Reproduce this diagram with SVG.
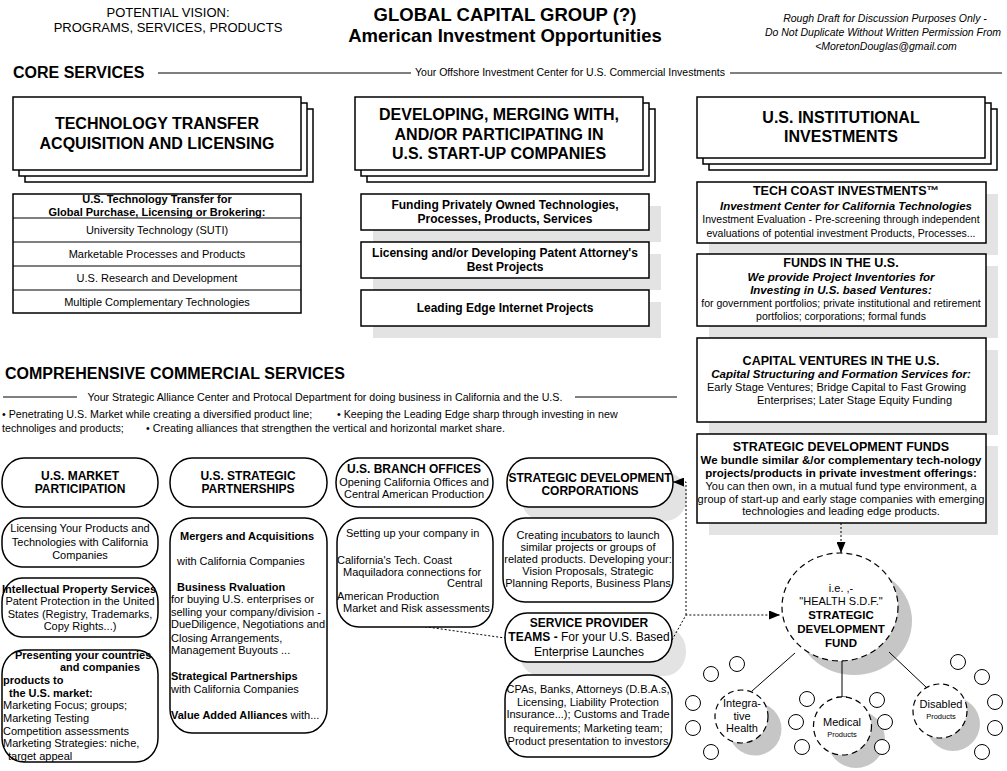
<svg xmlns="http://www.w3.org/2000/svg" width="1007" height="771" viewBox="0 0 1007 771">
<defs>
<style>
text{font-family:"Liberation Sans",Arial,sans-serif;fill:#000}
.c{text-anchor:middle}
.b{font-weight:bold}
.i{font-style:italic}
.box{fill:#fff;stroke:#000;stroke-width:1.5}
.sh{fill:#e3e3e3}
.csh{fill:#c6c6c6}
.dot{fill:none;stroke:#000;stroke-width:1;stroke-dasharray:2 2}
.ln{fill:none;stroke:#000;stroke-width:1}
.dc{fill:#fff;stroke:#000;stroke-width:1.2;stroke-dasharray:6 4}
.sc{fill:#fff;stroke:#000;stroke-width:1}
.f16{font-size:16px}.f12{font-size:12px}.f11{font-size:11px}.f13{font-size:13px}.f105{font-size:10.5px}
</style>
<marker id="ah" markerUnits="userSpaceOnUse" markerWidth="11" markerHeight="9" refX="11" refY="4.5" orient="auto">
<path d="M0,0 L11,4.5 L0,9 z" fill="#000"/>
</marker>
</defs>
<rect width="1007" height="771" fill="#fff"/>

<g id="header">
<text x="168" y="17" class="c f13">POTENTIAL VISION:</text>
<text x="168" y="32" class="c f13">PROGRAMS, SERVICES, PRODUCTS</text>
<text x="505" y="21" class="c b" font-size="18.5">GLOBAL CAPITAL GROUP (?)</text>
<text x="505" y="42" class="c b" font-size="18.5">American Investment Opportunities</text>
<text x="885" y="22" class="c i f105">Rough Draft for Discussion Purposes Only -</text>
<text x="883" y="36" class="c i f105">Do Not Duplicate Without Written Permission From</text>
<text x="886" y="50" class="c i f105">&lt;MoretonDouglas@gmail.com</text>
<text x="13" y="78" class="b f16">CORE SERVICES</text>
<line x1="158" y1="73" x2="411" y2="73" class="ln"/>
<text x="570" y="76" class="c f105">Your Offshore Investment Center for U.S. Commercial Investments</text>
<line x1="730" y1="73" x2="1002" y2="73" class="ln"/>
<text x="5" y="379" class="b f16">COMPREHENSIVE  COMMERCIAL SERVICES</text>
<line x1="3" y1="397" x2="77" y2="397" class="ln"/>
<text x="325" y="401" class="c" font-size="10.7">Your Strategic Alliance Center and Protocal Department for doing business in California and the U.S.</text>
<line x1="575" y1="397" x2="677" y2="397" class="ln"/>
<text x="2" y="418" font-size="10.7">• Penetrating U.S. Market while creating a diversified product line;</text>
<text x="337" y="418" font-size="10.7">• Keeping the Leading Edge sharp through investing in new</text>
<text x="2" y="432" font-size="10.7">technoliges and products;</text>
<text x="146" y="432" font-size="10.7">• Creating alliances that strengthen the vertical and horizontal market share.</text>
</g>

<g id="shadows">
<rect x="373" y="206" width="288" height="36" class="sh"/>
<rect x="373" y="254" width="288" height="36" class="sh"/>
<rect x="373" y="302" width="288" height="36" class="sh"/>
<rect x="709" y="194" width="289" height="61" class="sh"/>
<rect x="709" y="266" width="289" height="72" class="sh"/>
<rect x="709" y="350" width="289" height="85" class="sh"/>
<rect x="709" y="446" width="289" height="89" class="sh"/>
<rect x="521" y="472" width="166" height="49" rx="22" ry="24" class="sh"/>
<rect x="519" y="627" width="167" height="49" rx="22" ry="24" class="sh"/>
<ellipse cx="854" cy="621" rx="58" ry="54" class="csh"/>
<circle cx="755" cy="729" r="26.5" class="csh"/>
<circle cx="856" cy="739" r="29" class="csh"/>
<circle cx="953" cy="724" r="27" class="csh"/>
</g>

<g id="connectors">
<path d="M413 625 L505 638" class="dot"/>
<path d="M672 640 L686 615 L780 615" class="dot" marker-end="url(#ah)"/>
<path d="M686 615 L686 482 L673 482" class="dot" marker-end="url(#ah)"/>
<path d="M841 523 L841 553" class="dot" marker-end="url(#ah)"/>
<path d="M795 653 L752 691" class="ln"/>
<path d="M842 661 L842 697 M837 697 L847 697" class="ln"/>
<path d="M889 652 L927 688" class="ln"/>
</g>

<g id="tech-transfer">
<rect x="25" y="109" width="288" height="73" class="box"/>
<rect x="19" y="103" width="288" height="73" class="box"/>
<rect x="13" y="97" width="288" height="73" class="box"/>
<text x="157" y="129" class="c b f16">TECHNOLOGY TRANSFER</text>
<text x="157" y="149" class="c b f16">ACQUISITION AND LICENSING</text>
</g>

<g id="tech-table">
<rect x="13" y="194" width="288" height="119" class="box"/>
<path d="M13 218 H301 M13 242 H301 M13 266 H301 M13 290 H301" class="ln" stroke-width="1.3"/>
<text x="157" y="203" class="c b f11">U.S. Technology Transfer for</text>
<text x="157" y="216" class="c b f11">Global Purchase, Licensing or Brokering:</text>
<text x="157" y="234" class="c f11">University Technology (SUTI)</text>
<text x="157" y="258" class="c f11">Marketable Processes and Products</text>
<text x="157" y="282" class="c f11">U.S. Research and Development</text>
<text x="157" y="306" class="c f11">Multiple Complementary Technologies</text>
</g>

<g id="startups">
<rect x="367" y="109" width="288" height="73" class="box"/>
<rect x="361" y="103" width="288" height="73" class="box"/>
<rect x="355" y="97" width="288" height="73" class="box"/>
<text x="499" y="120" class="c b f16">DEVELOPING, MERGING WITH,</text>
<text x="499" y="140" class="c b f16">AND/OR PARTICIPATING IN</text>
<text x="499" y="159" class="c b f16">U.S. START-UP COMPANIES</text>
</g>

<g id="funding">
<rect x="361" y="194" width="288" height="36" class="box"/>
<text x="505" y="209" class="c b f12">Funding Privately Owned Technologies,</text>
<text x="505" y="223" class="c b f12">Processes, Products, Services</text>
</g>
<g id="licensing-patent">
<rect x="361" y="242" width="288" height="36" class="box"/>
<text x="505" y="257" class="c b f12">Licensing and/or Developing Patent Attorney's</text>
<text x="505" y="271" class="c b f12">Best Projects</text>
</g>
<g id="internet">
<rect x="361" y="290" width="288" height="36" class="box"/>
<text x="505" y="312" class="c b f12">Leading Edge Internet Projects</text>
</g>

<g id="institutional">
<rect x="709" y="109" width="288" height="61" class="box"/>
<rect x="703" y="103" width="288" height="61" class="box"/>
<rect x="697" y="97" width="288" height="61" class="box"/>
<text x="841" y="123" class="c b f16">U.S. INSTITUTIONAL</text>
<text x="841" y="142" class="c b f16">INVESTMENTS</text>
</g>

<g id="tech-coast">
<rect x="697" y="182" width="289" height="61" class="box"/>
<text x="846" y="195" class="c b" font-size="12.5">TECH COAST INVESTMENTS™</text>
<text x="846" y="210" class="c b i" font-size="11.5">Investment Center for California Technologies</text>
<text x="841" y="223" class="c f105">Investment Evaluation - Pre-screening through independent</text>
<text x="841" y="237" class="c f105">evaluations of potential investment Products, Processes...</text>
</g>

<g id="funds-us">
<rect x="697" y="254" width="289" height="72" class="box"/>
<text x="841" y="267" class="c b" font-size="12.5">FUNDS IN THE U.S.</text>
<text x="841" y="281" class="c b i" font-size="11.5">We provide Project Inventories for</text>
<text x="841" y="294" class="c b i" font-size="11.5">Investing in U.S. based Ventures:</text>
<text x="841" y="307" class="c f105">for government portfolios; private institutional and retirement</text>
<text x="841" y="320" class="c f105">portfolios; corporations; formal funds</text>
</g>

<g id="capital-ventures">
<rect x="697" y="338" width="289" height="84" class="box"/>
<text x="841" y="365" class="c b" font-size="12.5">CAPITAL VENTURES IN THE U.S.</text>
<text x="841" y="378" class="c b i" font-size="11.5">Capital Structuring and Formation Services for:</text>
<text x="707" y="391" class="f11">Early Stage Ventures; Bridge Capital to Fast Growing</text>
<text x="757" y="404" class="f11">Enterprises; Later Stage Equity Funding</text>
</g>

<g id="sdf-box">
<rect x="697" y="434" width="289" height="89" class="box"/>
<text x="841" y="451" class="c b" font-size="12.5">STRATEGIC DEVELOPMENT FUNDS</text>
<text x="841" y="464" class="c b" font-size="11.5">We bundle similar &amp;/or complementary tech-nology</text>
<text x="841" y="477" class="c b" font-size="11.5">projects/products in private investment offerings:</text>
<text x="841" y="490" class="c f11">You can then own, in a mutual fund type environment, a</text>
<text x="841" y="503" class="c f11">group of start-up and early stage companies with emerging</text>
<text x="841" y="515" class="c f11">technologies and leading edge products.</text>
</g>

<g id="market-participation">
<rect x="2" y="458" width="156" height="49" rx="22" ry="24" class="box"/>
<text x="80" y="480" class="c b f12">U.S. MARKET</text>
<text x="80" y="493" class="c b f12">PARTICIPATION</text>
</g>
<g id="licensing-products">
<rect x="2" y="518" width="156" height="49" rx="20" ry="22" class="box"/>
<text x="80" y="532" class="c f11">Licensing Your Products and</text>
<text x="80" y="546" class="c f11">Technologies with California</text>
<text x="80" y="559" class="c f11">Companies</text>
</g>
<g id="ip-services">
<rect x="2" y="578" width="156" height="59" rx="20" ry="24" class="box"/>
<text x="79" y="593" class="c b f11">Intellectual Property Services</text>
<text x="80" y="605" class="c f11">Patent Protection in the United</text>
<text x="80" y="618" class="c f11">States (Registry, Trademarks,</text>
<text x="80" y="630" class="c f11">Copy Rights...)</text>
</g>
<g id="presenting">
<rect x="2" y="650" width="156" height="112" rx="22" ry="24" class="box"/>
<text x="15" y="659" class="b f11">Presenting your countries</text>
<text x="60" y="671" class="b f11">and companies</text>
<text x="3" y="684" class="b f11">products to</text>
<text x="9" y="697" class="b f11">the U.S. market:</text>
<text x="3" y="709" class="f11">Marketing Focus; groups;</text>
<text x="3" y="722" class="f11">Marketing Testing</text>
<text x="3" y="735" class="f11">Competition assessments</text>
<text x="3" y="747" class="f11">Marketing Strategies: niche,</text>
<text x="8" y="760" class="f11">target appeal</text>
</g>

<g id="strategic-partnerships">
<rect x="170" y="458" width="157" height="49" rx="22" ry="24" class="box"/>
<text x="248" y="480" class="c b f12">U.S. STRATEGIC</text>
<text x="248" y="493" class="c b f12">PARTNERSHIPS</text>
</g>
<g id="partnerships-detail">
<rect x="170" y="518" width="157" height="215" rx="22" ry="24" class="box"/>
<text x="180" y="540" class="b f11">Mergers and Acquisitions</text>
<text x="177" y="565" class="f11">with California Companies</text>
<text x="177" y="591" class="b f11">Business Rvaluation</text>
<text x="171" y="603" class="f11">for buying U.S. enterprises or</text>
<text x="171" y="616" class="f11">selling your company/division -</text>
<text x="171" y="628" class="f11">DueDiligence, Negotiations and</text>
<text x="171" y="642" class="f11">Closing Arrangements,</text>
<text x="171" y="654" class="f11">Management Buyouts ...</text>
<text x="171" y="680" class="b f11">Strategical Partnerships</text>
<text x="171" y="693" class="f11">with California Companies</text>
<text x="171" y="719" class="f11"><tspan class="b">Value Added Alliances</tspan> with...</text>
</g>

<g id="branch-offices">
<rect x="336" y="458" width="157" height="49" rx="22" ry="24" class="box"/>
<text x="414" y="473" class="c b f12">U.S. BRANCH OFFICES</text>
<text x="414" y="486" class="c f11">Opening California Offices and</text>
<text x="414" y="498" class="c f11">Central American Production</text>
</g>
<g id="branch-detail">
<rect x="337" y="518" width="156" height="109" rx="22" ry="24" class="box"/>
<text x="346" y="537" class="f11">Setting up your company in</text>
<text x="337" y="564" class="f11">California's Tech. Coast</text>
<text x="343" y="576" class="f11">Maquiladora connections for</text>
<text x="447" y="587" class="f11">Central</text>
<text x="337" y="600" class="f11">American Production</text>
<text x="343" y="612" class="f11">Market and Risk assessments</text>
</g>

<g id="sdc">
<rect x="507" y="458" width="166" height="49" rx="22" ry="24" class="box"/>
<text x="590" y="482" class="c b f12">STRATEGIC DEVELOPMENT</text>
<text x="590" y="495" class="c b f12">CORPORATIONS</text>
</g>
<g id="sdc-detail">
<rect x="503" y="518" width="170" height="84" rx="22" ry="24" class="box"/>
<text x="588" y="539" class="c f11">Creating <tspan text-decoration="underline">incubators</tspan> to launch</text>
<text x="588" y="551" class="c f11">similar projects or groups of</text>
<text x="588" y="563" class="c f11">related products. Developing your:</text>
<text x="588" y="575" class="c f11">Vision Proposals, Strategic</text>
<text x="588" y="587" class="c f11">Planning Reports, Business Plans</text>
</g>

<g id="service-provider">
<rect x="505" y="613" width="167" height="49" rx="22" ry="24" class="box"/>
<text x="589" y="627" class="c b f12">SERVICE PROVIDER</text>
<text x="589" y="641" class="c f12"><tspan class="b">TEAMS -</tspan> For your U.S. Based</text>
<text x="589" y="656" class="c f12">Enterprise Launches</text>
</g>
<g id="service-detail">
<rect x="505" y="675" width="167" height="82" rx="22" ry="24" class="box"/>
<text x="588" y="693" class="c f11">CPAs, Banks, Attorneys (D.B.A.s,</text>
<text x="588" y="706" class="c f11">Licensing, Liability Protection</text>
<text x="588" y="718" class="c f11">Insurance...); Customs and Trade</text>
<text x="588" y="732" class="c f11">requirements; Marketing team;</text>
<text x="588" y="745" class="c f11">Product presentation to investors</text>
</g>

<g id="health-sdf">
<ellipse cx="840" cy="607" rx="58" ry="54" class="dc"/>
<text x="841" y="592" class="c f11">i.e. ,-</text>
<text x="841" y="605" class="c f11">"HEALTH S.D.F."</text>
<text x="841" y="619" class="c b" font-size="11.5">STRATEGIC</text>
<text x="841" y="633" class="c b" font-size="11.5">DEVELOPMENT</text>
<text x="841" y="647" class="c b" font-size="11.5">FUND</text>
</g>

<g id="integrative-health">
<circle cx="741.5" cy="716.5" r="26.5" class="dc"/>
<text x="742" y="707" class="c f11">Integra-</text>
<text x="742" y="720" class="c f11">tive</text>
<text x="742" y="732" class="c f11">Health</text>
<circle cx="737" cy="664" r="7.5" class="sc"/>
<circle cx="711" cy="674" r="7.5" class="sc"/>
<circle cx="693" cy="703" r="7.5" class="sc"/>
<circle cx="693" cy="728" r="7.5" class="sc"/>
<circle cx="711" cy="752" r="7.5" class="sc"/>
</g>

<g id="medical-products">
<circle cx="842.5" cy="726" r="29" class="dc"/>
<text x="842" y="726" class="c f11">Medical</text>
<text x="842" y="737" class="c" font-size="7.5">Products</text>
<circle cx="807" cy="699" r="7.5" class="sc"/>
<circle cx="796" cy="722" r="7.5" class="sc"/>
<circle cx="802" cy="747" r="7.5" class="sc"/>
<circle cx="877" cy="700" r="7.5" class="sc"/>
<circle cx="885" cy="722" r="7.5" class="sc"/>
<circle cx="882" cy="747" r="7.5" class="sc"/>
</g>

<g id="disabled-products">
<circle cx="940" cy="711" r="27" class="dc"/>
<text x="941" y="708" class="c f11">Disabled</text>
<text x="941" y="719" class="c" font-size="7.5">Products</text>
<circle cx="958" cy="662" r="7.5" class="sc"/>
<circle cx="982" cy="677" r="7.5" class="sc"/>
<circle cx="995" cy="702" r="7.5" class="sc"/>
<circle cx="995" cy="728" r="7.5" class="sc"/>
<circle cx="982" cy="752" r="7.5" class="sc"/>
</g>
</svg>
